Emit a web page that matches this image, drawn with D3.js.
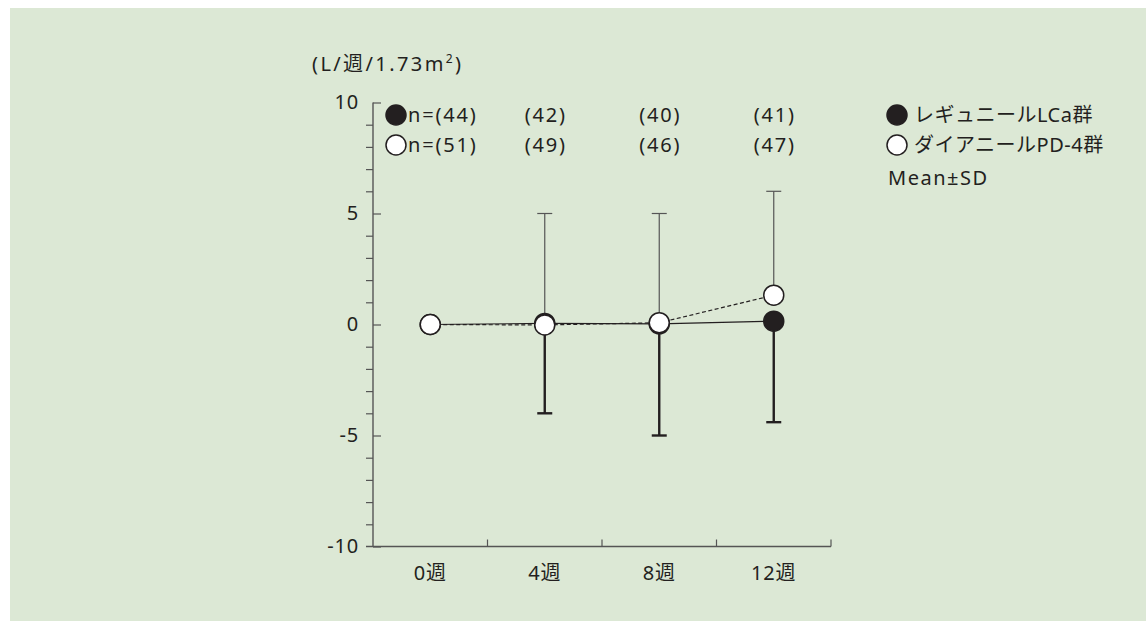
<!DOCTYPE html>
<html>
<head>
<meta charset="utf-8">
<script src="https://cdn.jsdelivr.net/npm/d3@7"></script>
<style>
  body { margin: 0; background: #fff; }
  svg text { font-family: "Noto Sans", "Noto Sans CJK JP", sans-serif; fill: #231f20; letter-spacing: 0.8px; }
</style>
</head>
<body>
<svg id="chart" width="1146" height="621"></svg>
<script>
// data
var weeks = ["0", "4", "8", "12"]
var weekLabels = ["0週", "4週", "8週", "12週"]
var lcaMean = [0, 0.05, 0.03, 0.15]
var lcaSd = [0, 4.05, 5.03, 4.55]
var pdMean = [0, -0.02, 0.08, 1.32]
var pdSd = [0, 5.02, 4.92, 4.68]
var lcaN = ["(44)", "(42)", "(40)", "(41)"]
var pdN = ["(51)", "(49)", "(46)", "(47)"]
var yMajor = [-10, -5, 0, 5, 10]
var yMinor = d3.range(-10, 11).filter(function(v){ return v % 5 != 0 })
var legendNames = ["レギュニールLCa群", "ダイアニールPD-4群"]

var ink = "#231f20"
var fs = 20
var svg = d3.select("#chart")

svg.append("rect").attr("x", 10).attr("y", 8).attr("width", 1136).attr("height", 613)
    .attr("fill", "#dce8d5")

var x = d3.scaleBand().domain(weeks).range([373, 831])
var y = d3.scaleLinear().domain([-10, 10]).range([546.5, 102.5])
var cx = function(d, i){ return x(weeks[i]) + x.bandwidth() / 2 }

// y axis: minor ticks on the left
svg.append("g").attr("transform", "translate(373,0)")
    .call(d3.axisLeft(y).tickValues(yMinor).tickSize(7).tickFormat(""))
    .call(function(g){
        g.select(".domain").remove()
        g.selectAll("line").attr("stroke", "#555").attr("stroke-width", 1.2)
    })
// major ticks cross the axis
var yAx = svg.append("g").attr("transform", "translate(373,0)")
    .call(d3.axisLeft(y).tickValues(yMajor).tickSize(7).tickPadding(7)
        .tickFormat(function(d){ return String(d) }))
yAx.select(".domain").attr("d", "M0," + y(10) + "V" + y(-10)).attr("stroke", "#555").attr("stroke-width", 1.4)
yAx.selectAll(".tick line").attr("x2", 8).attr("stroke", "#555").attr("stroke-width", 1.2)
yAx.selectAll(".tick text").attr("font-size", fs).attr("fill", ink)
    .attr("font-family", '"Noto Sans", sans-serif')

// x axis with upward ticks at band boundaries
var xb = weeks.slice(1).map(function(w){ return x(w) }).concat([831])
svg.append("line").attr("x1", 366).attr("x2", 831).attr("y1", y(-10)).attr("y2", y(-10))
    .attr("stroke", "#555").attr("stroke-width", 1.4)
svg.selectAll(".xtick").data(xb).enter().append("line")
    .attr("x1", function(d){ return d }).attr("x2", function(d){ return d })
    .attr("y1", y(-10)).attr("y2", y(-10) - 7)
    .attr("stroke", "#555").attr("stroke-width", 1.2)
svg.selectAll(".xlab").data(weekLabels).enter().append("text")
    .attr("x", cx).attr("y", 580).attr("text-anchor", "middle")
    .attr("font-size", fs).text(function(d){ return d })

// unit label
var unit = svg.append("text").attr("x", 312).attr("y", 71).attr("font-size", fs)
    .style("letter-spacing", "2.4px")
unit.append("tspan").text("(L/週/1.73m")
unit.append("tspan").attr("font-size", 12).attr("dy", -8).text("2")
unit.append("tspan").attr("dy", 8).text(")")

// error bars: PD upward (thin), LCa downward (thick)
var idx = [1, 2, 3]
svg.selectAll(".errUp").data(idx).enter().append("g").each(function(i){
    var g = d3.select(this), px = cx(null, i), top = y(pdMean[i] + pdSd[i])
    g.append("line").attr("x1", px).attr("x2", px).attr("y1", y(pdMean[i])).attr("y2", top)
        .attr("stroke", "#555").attr("stroke-width", 1.2)
    g.append("line").attr("x1", px - 7.5).attr("x2", px + 7.5).attr("y1", top).attr("y2", top)
        .attr("stroke", "#555").attr("stroke-width", 1.2)
})
svg.selectAll(".errDn").data(idx).enter().append("g").each(function(i){
    var g = d3.select(this), px = cx(null, i), bot = y(lcaMean[i] - lcaSd[i])
    g.append("line").attr("x1", px).attr("x2", px).attr("y1", y(lcaMean[i])).attr("y2", bot)
        .attr("stroke", ink).attr("stroke-width", 2.4)
    g.append("line").attr("x1", px - 7.5).attr("x2", px + 7.5).attr("y1", bot).attr("y2", bot)
        .attr("stroke", ink).attr("stroke-width", 2.4)
})

// lines
var line = d3.line().x(function(d, i){ return cx(d, i) }).y(function(d){ return y(d) })
svg.append("path").attr("d", line(lcaMean)).attr("fill", "none").attr("stroke", ink).attr("stroke-width", 1.2)
svg.append("path").attr("d", line(pdMean)).attr("fill", "none").attr("stroke", ink).attr("stroke-width", 1.2)
    .attr("stroke-dasharray", "4,2.5")

// points
svg.selectAll(".lca").data(lcaMean).enter().append("circle")
    .attr("cx", cx).attr("cy", function(d){ return y(d) }).attr("r", 10)
    .attr("fill", ink).attr("stroke", ink).attr("stroke-width", 1.5)
svg.selectAll(".pd").data(pdMean).enter().append("circle")
    .attr("cx", cx).attr("cy", function(d){ return y(d) }).attr("r", 10)
    .attr("fill", "#fff").attr("stroke", ink).attr("stroke-width", 1.5)

// n rows
var rows = [{n: lcaN, fill: ink, yy: 115}, {n: pdN, fill: "#fff", yy: 145}]
rows.forEach(function(r){
    svg.append("circle").attr("cx", 396).attr("cy", r.yy).attr("r", 10)
        .attr("fill", r.fill).attr("stroke", ink).attr("stroke-width", 1.5)
    svg.append("text").attr("x", 408).attr("y", r.yy).attr("dy", "0.35em")
        .attr("font-size", fs).style("letter-spacing", "1.8px").text("n=" + r.n[0])
    svg.selectAll(null).data(r.n.slice(1)).enter().append("text")
        .attr("x", function(d, i){ return cx(d, i + 1) + 1 }).attr("y", r.yy).attr("dy", "0.35em")
        .attr("text-anchor", "middle").attr("font-size", fs).style("letter-spacing", "1.8px")
        .text(function(d){ return d })
})

// legend
legendNames.forEach(function(name, i){
    var ly = 115 + i * 30
    svg.append("circle").attr("cx", 897).attr("cy", ly).attr("r", 10)
        .attr("fill", i == 0 ? ink : "#fff").attr("stroke", ink).attr("stroke-width", 1.5)
    svg.append("text").attr("x", 914).attr("y", ly).attr("dy", "0.35em")
        .attr("font-size", fs).style("letter-spacing", "0.5px").text(name)
})
svg.append("text").attr("x", 888).attr("y", 178).attr("dy", "0.35em")
    .attr("font-size", fs).style("letter-spacing", "1.5px").text("Mean±SD")
</script>
</body>
</html>
